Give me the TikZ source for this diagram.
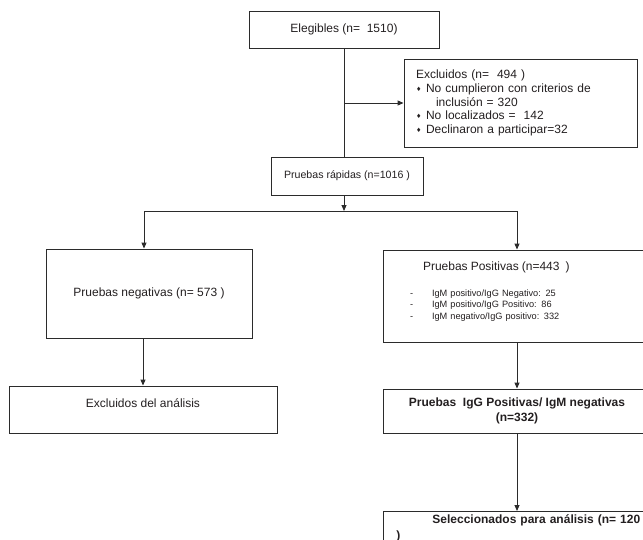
\documentclass[tikz,border=0pt]{standalone}
\usepackage{fontspec}
\setmainfont{Liberation Sans}
\newfontfamily\flowsym{DejaVu Sans}
\usetikzlibrary{arrows.meta}
\definecolor{flowInk}{HTML}{231F20}
\definecolor{flowEdge}{HTML}{2B2B2B}
\newcommand{\flowbul}{\makebox[10pt][l]{\raisebox{1pt}{\flowsym\fontsize{6}{6}\selectfont ♦}}}
\newcommand{\flowdash}{\makebox[22pt][l]{-}}
\tikzset{
  flowbox/.style={draw=flowEdge,line width=0.9pt,text=flowInk,align=center,inner sep=3pt,
                  font=\fontsize{12}{13}\selectfont},
  flowlist/.style={flowbox,align=left},
  flowbold/.style={flowbox,font=\fontsize{12}{15}\selectfont\bfseries},
  flowarrow/.style={-{Triangle[length=6pt,width=5pt]},draw=flowEdge,line width=0.9pt},
  flowline/.style={draw=flowEdge,line width=0.9pt},
}

\begin{document}
\begin{tikzpicture}[x=1pt,y=-1pt]
  \useasboundingbox (0,0) rectangle (643,539);
  \clip (0,0) rectangle (643,539);

  \node[flowbox,minimum width=190,minimum height=37] (eleg) at (344,29.5) {Elegibles (n=\ \ 1510)};
  \node[flowlist,text width=209,inner xsep=12,minimum height=88,font=\fontsize{12}{13.75}\selectfont] (excl) at (520.5,103)
    {Excluidos (n=\ \ 494 )\\
     \flowbul No cumplieron con criterios de\\
     \hspace*{20pt}inclusión = 320\\
     \flowbul No localizados =\ \ 142\\
     \flowbul Declinaron a participar=32};
  \node[flowbox,minimum width=152,minimum height=38,font=\fontsize{10.6}{12}\selectfont] (rapid) at (347,176) {Pruebas rápidas (n=1016 )};

  % left branch
  \node[flowbox,minimum width=206,minimum height=89] (neg) at (149,293.5) {Pruebas negativas (n= 573 )};
  \node[flowbox,minimum width=268,minimum height=47] (exan) at (143,409.5) {Excluidos del análisis\\\mbox{}};

  % right branch, cut at the page edge
  \node[flowlist,text width=214,inner xsep=27,minimum height=92,font=\fontsize{9.2}{10.5}\selectfont] (pos) at (517,296)
    {\hspace*{13pt}{\fontsize{12}{10.5}\selectfont Pruebas Positivas (n=443\ \ )}\\[15.5pt]
     \flowdash IgM positivo/IgG Negativo: 25\\
     \flowdash IgM positivo/IgG Positivo: 86\\[1.5pt]
     \flowdash IgM negativo/IgG positivo: 332\\
     \mbox{}};
  \node[flowbold,minimum width=268,minimum height=44] (igg) at (517,411) {Pruebas\ \ IgG Positivas/ IgM negativas\\(n=332)};
  \node[flowbold,align=left,anchor=north west,text width=250,inner xsep=13,inner ysep=3,font=\fontsize{12}{16}\selectfont\bfseries] (sel) at (383,511)
    {\hspace*{36pt}Seleccionados para análisis (n= 120\\)};

  \coordinate (splitL) at (144,211);
  \coordinate (splitR) at (517,211);

  \draw[flowline] (eleg.south) -- (eleg.south |- rapid.north);
  \draw[flowarrow] (eleg.south |- excl.west) -- (excl.west);
  \draw[flowarrow] (eleg.south |- rapid.south) -- (eleg.south |- splitL);
  \draw[flowline] (splitL) -- (splitR);
  \draw[flowarrow] (splitL) -- (splitL |- neg.north);
  \draw[flowarrow] (splitR) -- (pos.north);
  \draw[flowarrow] (exan.north |- neg.south) -- (exan.north);
  \draw[flowarrow] (pos.south) -- (igg.north);
  \draw[flowarrow] (igg.south) -- (igg.south |- sel.north);
\end{tikzpicture}
\end{document}
